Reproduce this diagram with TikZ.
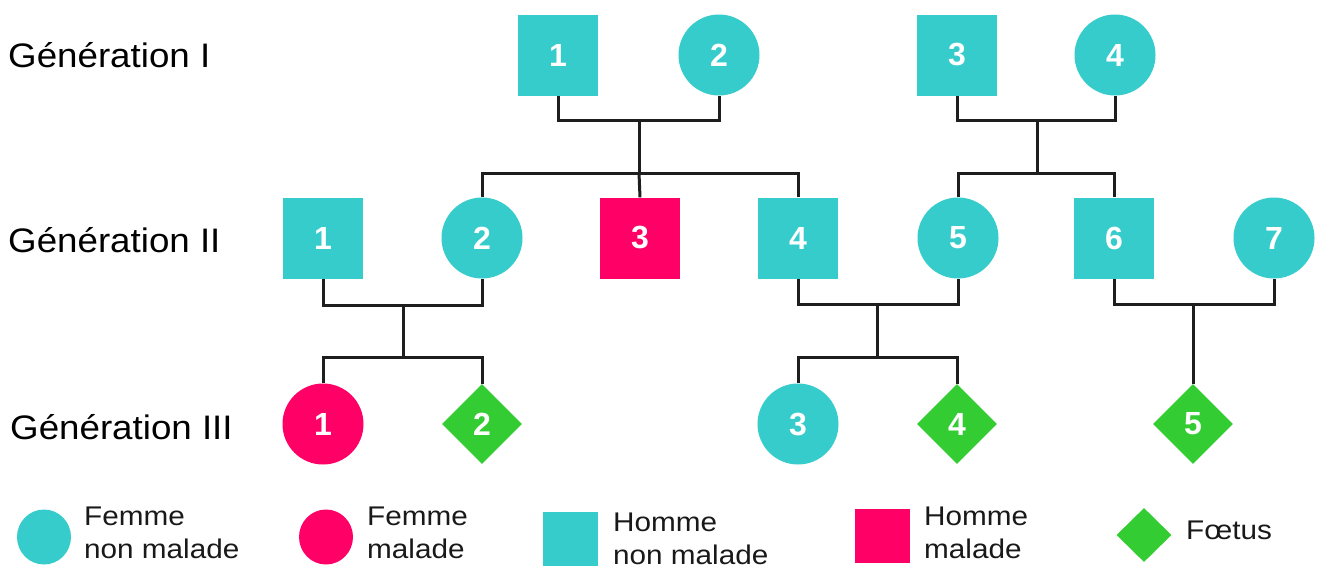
\documentclass[tikz,border=0pt]{standalone}
\usepackage{fontspec}
\setmainfont{Liberation Sans}
\newfontfamily\labfont[FakeStretch=1.08]{Liberation Sans}
\newfontfamily\legfont[FakeStretch=1.1]{Liberation Sans}
\usetikzlibrary{shapes.geometric}
\definecolor{cyanp}{HTML}{36CCCC}
\definecolor{redp}{HTML}{FF0066}
\definecolor{greenp}{HTML}{33CC33}
\definecolor{linec}{HTML}{1E1E1E}
\begin{document}
\begin{tikzpicture}[x=1pt,y=-1pt,
  lnk/.style={line width=3pt, draw=linec},
  person/.style={draw=none, inner sep=0pt, text=white, font=\fontsize{32}{32}\selectfont\bfseries},
  male/.style={person, rectangle, fill=cyanp, minimum width=80pt, minimum height=81pt},
  malered/.style={male, fill=redp},
  female/.style={person, circle, fill=cyanp, minimum size=81pt},
  femalered/.style={female, fill=redp},
  fetus/.style={person, diamond, fill=greenp, minimum width=80pt, minimum height=80pt},
  genlab/.style={anchor=west, inner sep=0pt, text=black, font=\labfont\fontsize{34}{34}\selectfont},
  leglab/.style={anchor=west, inner sep=0pt, text=black!90, align=left, font=\legfont\fontsize{27}{33}\selectfont},
  legcirc/.style={ellipse, draw=none, minimum width=54pt, minimum height=55pt, inner sep=0pt},
  legsq/.style={rectangle, draw=none, minimum width=55pt, minimum height=54pt, inner sep=0pt},
  legdia/.style={diamond, draw=none, fill=greenp, minimum width=55pt, minimum height=54pt, inner sep=0pt}
]
\useasboundingbox (0,0) rectangle (1317,568);

% generation labels
\node[genlab] (gI)   at (8,55)   {Génération I};
\node[genlab] (gII)  at (8,240)  {Génération II};
\node[genlab] (gIII) at (10,427) {Génération III};

% generation I
\node[male]   (I1) at (558,55)  {1};
\node[female] (I2) at (719,55)  {2};
\node[male]   (I3) at (957,55)  {3};
\node[female] (I4) at (1115,55) {4};

% generation II
\node[male]    (II1) at (323,238)  {1};
\node[female]  (II2) at (482,238)  {2};
\node[malered] (II3) at (640,238)  {3};
\node[male]    (II4) at (798,238)  {4};
\node[female]  (II5) at (958,238)  {5};
\node[male]    (II6) at (1114,238) {6};
\node[female]  (II7) at (1274,238) {7};

% generation III
\node[femalered] (III1) at (323,424)  {1};
\node[fetus]     (III2) at (482,424)  {2};
\node[female]    (III3) at (798,424)  {3};
\node[fetus]     (III4) at (957,424)  {4};
\node[fetus]     (III5) at (1193,424) {5};

% junction coordinates
\coordinate (cA) at (639,120);
\coordinate (sA) at (639,173);
\coordinate (cB) at (1037,120);
\coordinate (sB) at (1037,173);
\coordinate (cC) at (403,305);
\coordinate (sC) at (403,357);
\coordinate (cD) at (877,304);
\coordinate (sD) at (877,357);
\coordinate (cE) at (1193,304);

% couple I1-I2 and children
\draw[lnk] (I1.south) |- (cA) -| (I2.south);
\draw[lnk] (cA) -- (sA);
\draw[lnk] (II2.north) |- (sA) -| (II4.north);
\draw[lnk] (sA) -- (II3.north);

% couple I3-I4 and children
\draw[lnk] (I3.south) |- (cB) -| (I4.south);
\draw[lnk] (cB) -- (sB);
\draw[lnk] (II5.north) |- (sB) -| (II6.north);

% couple II1-II2
\draw[lnk] (II1.south) |- (cC) -| (II2.south);
\draw[lnk] (cC) -- (sC);
\draw[lnk] (III1.north) |- (sC) -| (III2.north);

% couple II4-II5
\draw[lnk] (II4.south) |- (cD) -| (II5.south);
\draw[lnk] (cD) -- (sD);
\draw[lnk] (III3.north) |- (sD) -| (III4.north);

% couple II6-II7
\draw[lnk] (II6.south) |- (cE) -| (II7.south);
\draw[lnk] (cE) -- (III5.north);

% legend
\node[legcirc, fill=cyanp] (L1) at (44,537) {};
\node[leglab] (L1t) at (84,533) {Femme\\non malade};
\node[legcirc, fill=redp] (L2) at (326,537) {};
\node[leglab] (L2t) at (367,533) {Femme\\malade};
\node[legsq, fill=cyanp] (L3) at (570,539) {};
\node[leglab] (L3t) at (613,539) {Homme\\non malade};
\node[legsq, fill=redp] (L4) at (882,536) {};
\node[leglab] (L4t) at (924,533) {Homme\\malade};
\node[legdia] (L5) at (1144,535) {};
\node[leglab] (L5t) at (1186,530) {Fœtus};
\end{tikzpicture}
\end{document}
